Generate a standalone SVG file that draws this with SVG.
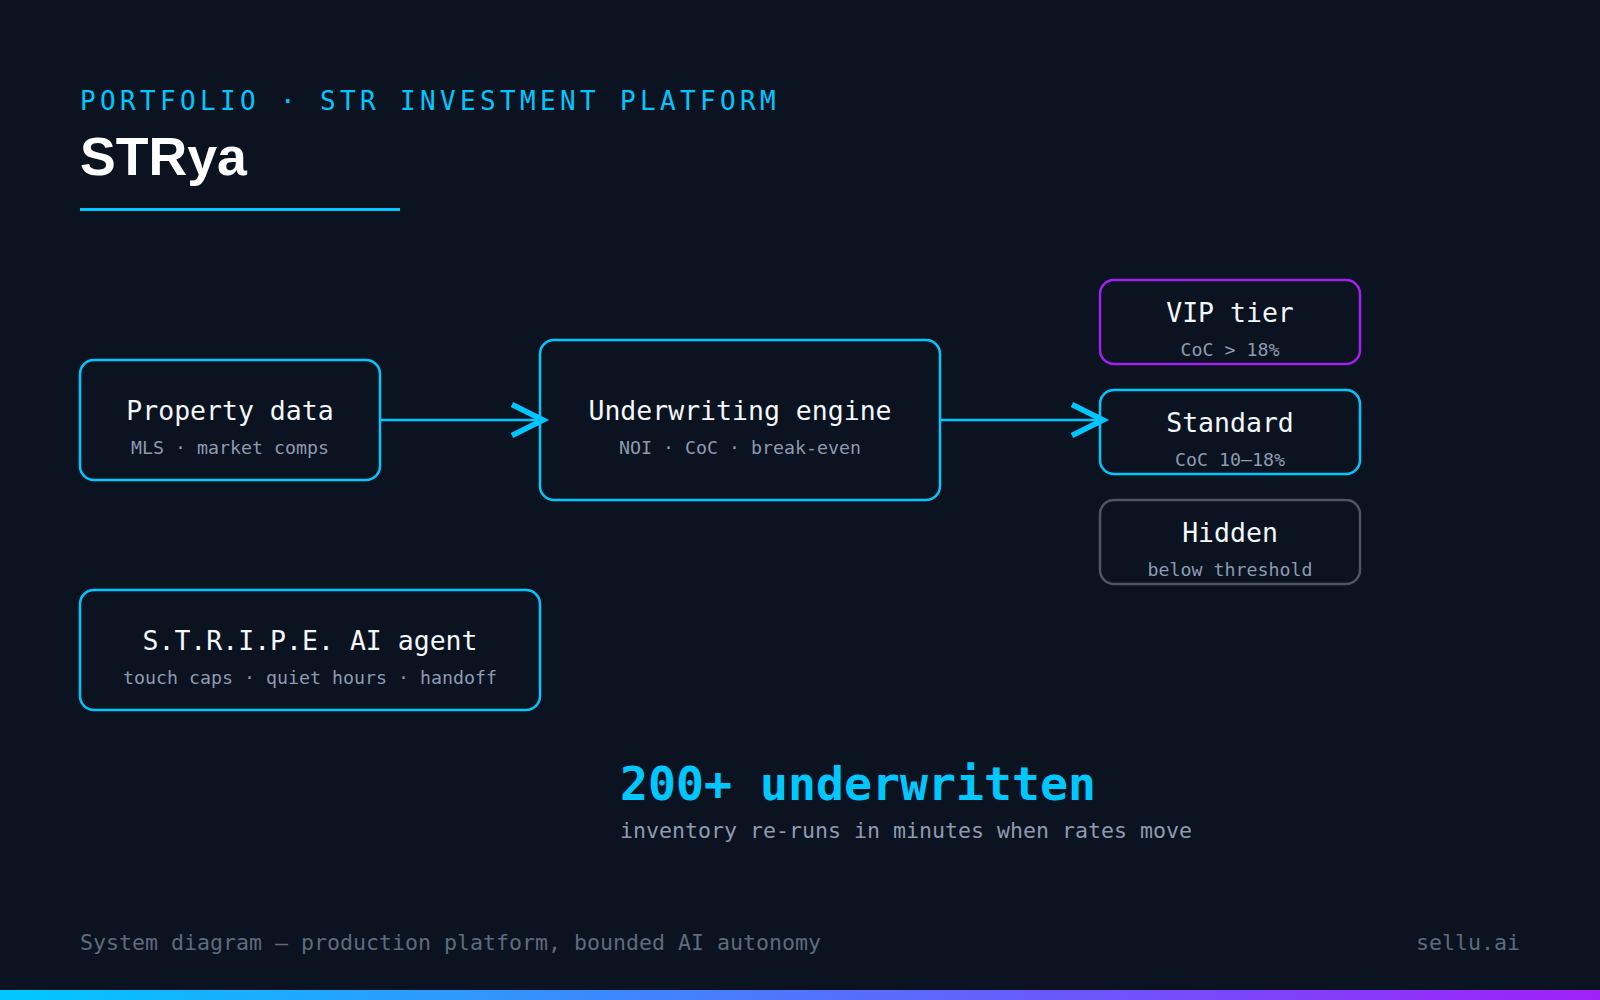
<svg xmlns="http://www.w3.org/2000/svg" width="1600" height="1000" viewBox="0 0 1600 1000">
<style>
.bg{fill:#0b1220}
.box{fill:#0b1220;stroke:#00c8ff;stroke-width:2.5}
.box.vip{stroke:#a020f0}
.box.hid{stroke:#4b5766}
.t{font-family:"DejaVu Sans Mono",monospace;font-size:26.5px;fill:#f4f7fb;text-anchor:middle}
.s{font-family:"DejaVu Sans Mono",monospace;font-size:18.3px;fill:#8d9bb0;text-anchor:middle}
.conn{stroke:#00c8ff;stroke-width:2.5;fill:none}
.kicker{font-family:"DejaVu Sans Mono",monospace;font-size:26px;fill:#00c8ff;letter-spacing:4.35px}
.title{font-family:"Liberation Sans",Arial,sans-serif;font-weight:bold;font-size:53.6px;fill:#ffffff}
.stat{font-family:"DejaVu Sans Mono",monospace;font-weight:bold;font-size:46.5px;fill:#00c8ff}
.statsub{font-family:"DejaVu Sans Mono",monospace;font-size:21.6px;fill:#8d9bb0}
.foot{font-family:"DejaVu Sans Mono",monospace;font-size:21.6px;fill:#5d6b7e}
</style>
<defs>
<marker id="arr" markerUnits="userSpaceOnUse" viewBox="-45 -22 60 44" markerWidth="60" markerHeight="44" refX="-3" refY="0" orient="auto">
<path d="M-31,-15.5 L0,0 L-31,15.5" fill="none" stroke="#00c8ff" stroke-width="5.5" stroke-linejoin="miter"/>
</marker>
<linearGradient id="bar" x1="0" y1="0" x2="1" y2="0">
<stop offset="0" stop-color="#00c8ff"/>
<stop offset="1" stop-color="#a020f8"/>
</linearGradient>
</defs>
<rect class="bg" x="0" y="0" width="1600" height="1000"/>

<g id="header">
<text class="kicker" x="80" y="110">PORTFOLIO · STR INVESTMENT PLATFORM</text>
<text class="title" x="80" y="175">STRya</text>
<rect x="80" y="208" width="320" height="3" fill="#00c8ff"/>
</g>

<g id="property-data">
<rect class="box" x="80" y="360" width="300" height="120" rx="14"/>
<text class="t" x="230" y="420">Property data</text>
<text class="s" x="230" y="454">MLS · market comps</text>
</g>

<g id="underwriting-engine">
<rect class="box" x="540" y="340" width="400" height="160" rx="14"/>
<text class="t" x="740" y="420">Underwriting engine</text>
<text class="s" x="740" y="454">NOI · CoC · break-even</text>
</g>

<g id="vip-tier">
<rect class="box vip" x="1100" y="280" width="260" height="84" rx="14"/>
<text class="t" x="1230" y="322">VIP tier</text>
<text class="s" x="1230" y="356">CoC &gt; 18%</text>
</g>

<g id="standard">
<rect class="box" x="1100" y="390" width="260" height="84" rx="14"/>
<text class="t" x="1230" y="432">Standard</text>
<text class="s" x="1230" y="466">CoC 10–18%</text>
</g>

<g id="hidden">
<rect class="box hid" x="1100" y="500" width="260" height="84" rx="14"/>
<text class="t" x="1230" y="542">Hidden</text>
<text class="s" x="1230" y="576">below threshold</text>
</g>

<g id="stripe-agent">
<rect class="box" x="80" y="590" width="460" height="120" rx="14"/>
<text class="t" x="310" y="650">S.T.R.I.P.E. AI agent</text>
<text class="s" x="310" y="684">touch caps · quiet hours · handoff</text>
</g>

<g id="connectors">
<line class="conn" x1="380" y1="420" x2="540" y2="420" marker-end="url(#arr)"/>
<line class="conn" x1="940" y1="420" x2="1100" y2="420" marker-end="url(#arr)"/>
</g>

<g id="stat">
<text class="stat" x="620" y="800">200+ underwritten</text>
<text class="statsub" x="620" y="838">inventory re-runs in minutes when rates move</text>
</g>

<g id="footer">
<text class="foot" x="80" y="950">System diagram — production platform, bounded AI autonomy</text>
<text class="foot" x="1520" y="950" text-anchor="end">sellu.ai</text>
<rect x="0" y="990" width="1600" height="10" fill="url(#bar)"/>
</g>
</svg>
